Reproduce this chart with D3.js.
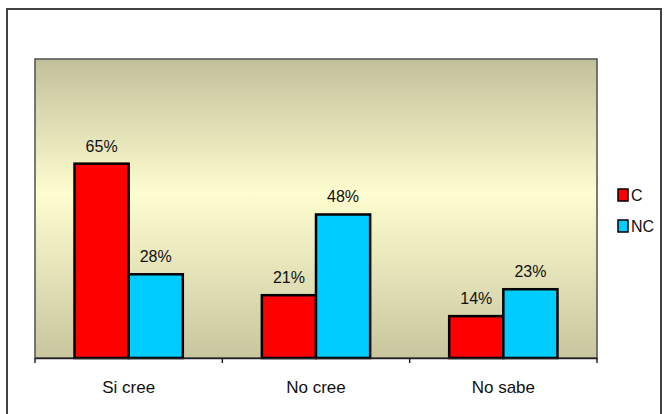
<!DOCTYPE html>
<html>
<head>
<meta charset="utf-8">
<script src="https://cdn.jsdelivr.net/npm/d3@7"></script>
<style>
  body { margin: 0; background: #fff; }
  svg { display: block; font-family: "Liberation Sans", Arial, sans-serif; }
</style>
</head>
<body>
<svg id="chart" width="666" height="414"></svg>
<script>
// data
const categories = ['Si cree', 'No cree', 'No sabe'];
const seriesNames = ['C', 'NC'];
const valuesC = [0.65, 0.21, 0.14];
const valuesNC = [0.28, 0.48, 0.23];
const colors = ['#ff0000', '#00ccff'];

const svg = d3.select('#chart');

// outer chart border
svg.append('rect')
    .attr('x', 7).attr('y', 9)
    .attr('width', 654).attr('height', 420)
    .attr('fill', '#fff')
    .attr('stroke', '#404040')
    .attr('stroke-width', 2);

const plot = { left: 35, top: 59, right: 597, bottom: 358 };

// plot area gradient
const grad = svg.append('defs').append('linearGradient')
    .attr('id', 'bg').attr('x1', 0).attr('y1', 0).attr('x2', 0).attr('y2', 1);
grad.append('stop').attr('offset', '0%').attr('stop-color', '#c2c09a');
grad.append('stop').attr('offset', '45%').attr('stop-color', '#fefdcf');
grad.append('stop').attr('offset', '100%').attr('stop-color', '#c9c69f');

svg.append('rect')
    .attr('x', plot.left).attr('y', plot.top)
    .attr('width', plot.right - plot.left).attr('height', plot.bottom - plot.top)
    .attr('fill', 'url(#bg)')
    .attr('stroke', '#505050')
    .attr('stroke-width', 1.5);

const x0 = d3.scaleBand()
    .domain(categories)
    .range([plot.left, plot.right])
    .paddingInner(0)
    .paddingOuter(0);

const x1 = d3.scaleBand()
    .domain(seriesNames)
    .range([0, x0.bandwidth()])
    .paddingOuter(0.73)
    .paddingInner(0);

const y = d3.scaleLinear()
    .domain([0, 1])
    .range([plot.bottom, plot.top]);

const rows = categories.map((c, i) => ({
    category: c,
    values: [
        { name: 'C', value: valuesC[i] },
        { name: 'NC', value: valuesNC[i] }
    ]
}));

const groups = svg.selectAll('g.group')
    .data(rows)
    .enter()
    .append('g')
    .attr('class', 'group')
    .attr('transform', d => `translate(${x0(d.category)},0)`);

groups.selectAll('rect')
    .data(d => d.values)
    .enter()
    .append('rect')
    .attr('x', d => x1(d.name))
    .attr('y', d => y(d.value))
    .attr('width', x1.bandwidth())
    .attr('height', d => plot.bottom - y(d.value))
    .attr('fill', (d, i) => colors[i])
    .attr('stroke', '#000')
    .attr('stroke-width', 2.5);

groups.selectAll('text.val')
    .data(d => d.values)
    .enter()
    .append('text')
    .attr('class', 'val')
    .attr('x', d => x1(d.name) + x1.bandwidth() / 2)
    .attr('y', d => y(d.value) - 12)
    .attr('text-anchor', 'middle')
    .attr('font-size', 16)
    .attr('fill', '#111')
    .text(d => d3.format('.0%')(d.value));

// category axis
const xAxis = d3.axisBottom(x0).tickSize(0).tickPadding(23);
const ax = svg.append('g')
    .attr('transform', `translate(0,${plot.bottom})`)
    .call(xAxis);
ax.select('.domain').attr('stroke', '#222').attr('stroke-width', 1.5);
ax.selectAll('.tick text')
    .attr('font-size', 17)
    .attr('font-family', '"Liberation Sans", Arial, sans-serif')
    .attr('fill', '#111');

// tick marks between categories
const bounds = [plot.left].concat(categories.map(c => x0(c) + x0.bandwidth()));
svg.selectAll('line.sep')
    .data(bounds)
    .enter()
    .append('line')
    .attr('x1', d => d).attr('x2', d => d)
    .attr('y1', plot.bottom).attr('y2', plot.bottom + 5)
    .attr('stroke', '#222')
    .attr('stroke-width', 1.5);

// legend
const legend = svg.append('g').attr('transform', 'translate(618,189)');
seriesNames.forEach((name, i) => {
    const g = legend.append('g').attr('transform', `translate(0,${i * 31})`);
    g.append('rect')
        .attr('x', 0).attr('y', 0)
        .attr('width', 10).attr('height', 12)
        .attr('fill', colors[i])
        .attr('stroke', '#000')
        .attr('stroke-width', 1.5);
    g.append('text')
        .attr('x', 13).attr('y', 12)
        .attr('font-size', 16)
        .attr('fill', '#111')
        .text(name);
});
</script>
</body>
</html>
